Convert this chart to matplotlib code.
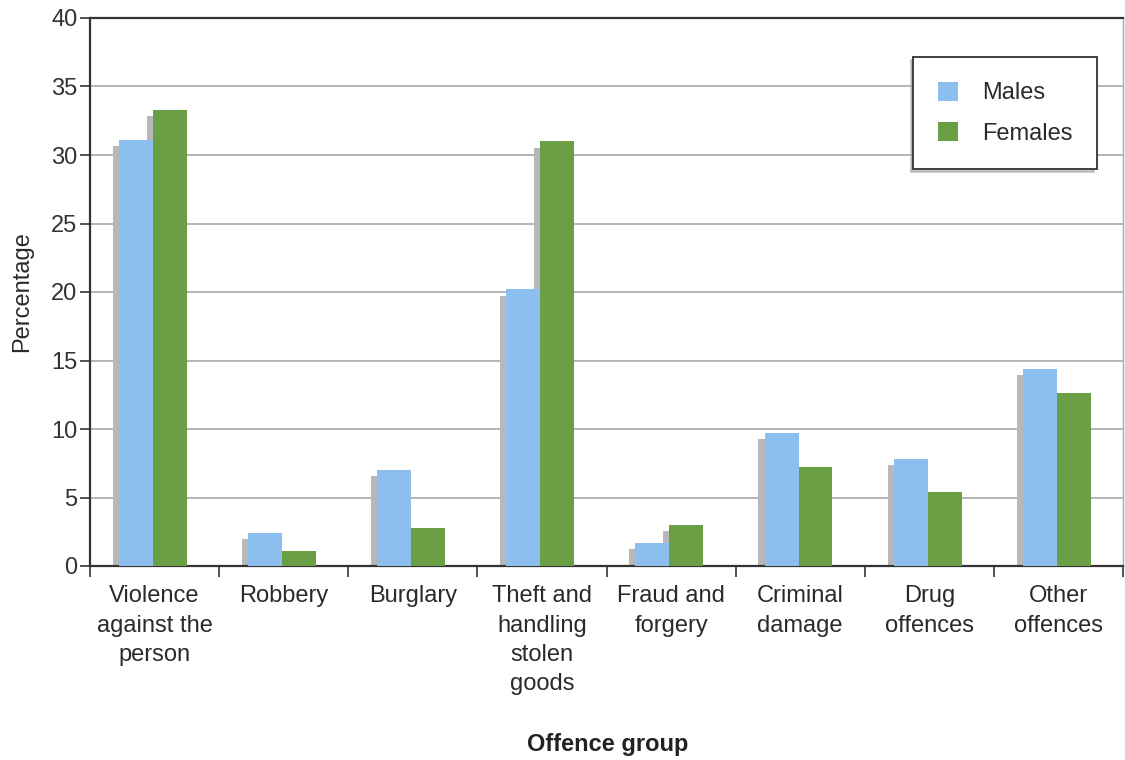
import numpy as np
import matplotlib.pyplot as plt

plt.rcParams['font.family'] = ['Liberation Sans', 'DejaVu Sans']

# Data
categories = ['Violence\nagainst the\nperson', 'Robbery', 'Burglary',
              'Theft and\nhandling\nstolen\ngoods', 'Fraud and\nforgery',
              'Criminal\ndamage', 'Drug\noffences', 'Other\noffences']
males = [31.1, 2.4, 7.0, 20.2, 1.7, 9.7, 7.8, 14.4]
females = [33.3, 1.1, 2.8, 31.0, 3.0, 7.2, 5.4, 12.6]
yticks = [0, 5, 10, 15, 20, 25, 30, 35, 40]

blue = '#8cbfee'
green = '#6b9f45'
shadow = '#b8b8b8'

fig = plt.figure(figsize=(11.25, 7.6), dpi=100)
ax = fig.add_axes([90 / 1125, 1 - 566 / 760, 1033 / 1125, 548 / 760])

x = np.arange(len(categories))
w = 0.263
centre = x + 0.487
dx = 0.047   # shadow offset to the left
dy = 0.46    # shadow offset downwards

# grey 3D-style shadows first, then the coloured bars on top
ax.bar(centre - w / 2 - dx, np.array(males) - dy, w, color=shadow, zorder=2)
ax.bar(centre + w / 2 - dx, np.array(females) - dy, w, color=shadow, zorder=2)
ax.bar(centre - w / 2, males, w, color=blue, label='Males', zorder=3)
ax.bar(centre + w / 2, females, w, color=green, label='Females', zorder=3)

ax.set_xlim(0, len(categories))
ax.set_ylim(0, 40)
ax.set_yticks(yticks)
ax.tick_params(axis='y', labelsize=17, length=7, width=1.2, pad=2, colors='#333333')
ax.yaxis.grid(True, color='#a0a0a0', linewidth=1.1, zorder=0)
ax.set_axisbelow(True)

# ticks at the category boundaries, labels in the middle
ax.set_xticks(np.arange(len(categories) + 1))
ax.set_xticklabels([])
ax.tick_params(axis='x', which='major', length=8, width=1.2, color='#333333')
ax.set_xticks(x + 0.5, minor=True)
ax.set_xticklabels(categories, minor=True, fontsize=17, linespacing=1.42,
                   color='#2a2a2a')
ax.tick_params(axis='x', which='minor', length=0, pad=14)

for s in ['left', 'bottom', 'top']:
    ax.spines[s].set_color('#333333')
    ax.spines[s].set_linewidth(1.6)
ax.spines['right'].set_color('#aaaaaa')
ax.spines['right'].set_linewidth(1.0)

ax.set_ylabel('Percentage', fontsize=17, color='#2a2a2a', labelpad=13)
fig.text(608 / 1125, 1 - 745 / 760, 'Offence group', fontsize=17,
         fontweight='bold', ha='center', va='center', color='#222222')

leg = ax.legend(loc='upper right', bbox_to_anchor=(0.975, 0.929), fontsize=17,
                frameon=True, fancybox=False, edgecolor='#333333',
                shadow={'ox': -2, 'oy': -2, 'color': '#999999'},
                handlelength=0.85, handleheight=0.85, handletextpad=1.0,
                borderpad=1.05, labelspacing=0.75, borderaxespad=0)
leg.get_frame().set_linewidth(1.3)
for t in leg.get_texts():
    t.set_color('#2a2a2a')

fig.savefig('out.png', dpi=100)
